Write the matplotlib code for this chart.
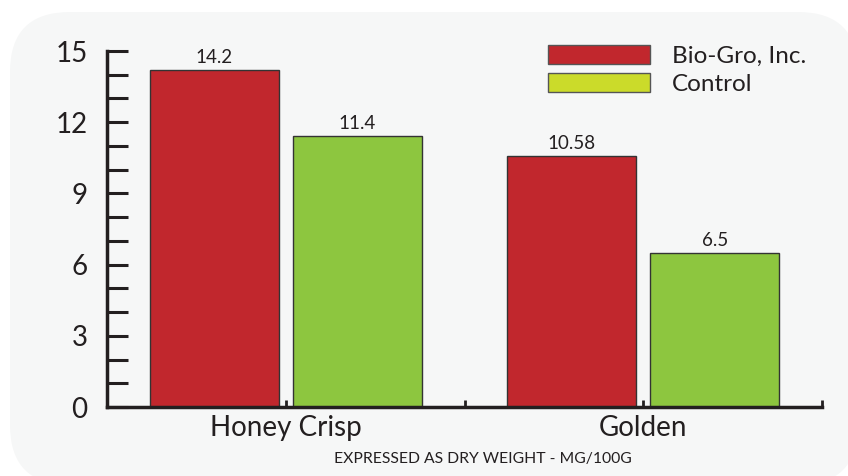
import matplotlib
matplotlib.use("Agg")
import matplotlib.pyplot as plt
from matplotlib.patches import FancyBboxPatch, Patch
from matplotlib.transforms import IdentityTransform
import numpy as np

plt.rcParams['font.family'] = ['Lato', 'DejaVu Sans']

varieties = ['Honey Crisp', 'Golden']
biogro = [14.2, 10.58]
control = [11.4, 6.5]
biogro_labels = ['14.2', '10.58']
control_labels = ['11.4', '6.5']
series_names = ['Bio-Gro, Inc.', 'Control']
note = 'EXPRESSED AS DRY WEIGHT - MG/100G'

RED = '#c1272d'
GREEN = '#8dc63f'
LEGEND_GREEN = '#cbdb2a'
INK = '#231f20'

fig = plt.figure(figsize=(8.48, 4.76), dpi=100, facecolor='white')

# rounded light panel behind everything (pixel coords)
panel = FancyBboxPatch((10, -9), 848, 473, boxstyle='round,pad=0,rounding_size=60',
                       facecolor='#f6f7f7', edgecolor='none',
                       transform=IdentityTransform(), zorder=0)
fig.add_artist(panel)

ax = fig.add_axes([107 / 848, 1 - 407 / 476, 715 / 848, 356 / 476])
ax.set_facecolor('none')

x = np.arange(len(varieties))
w = 0.36
b1 = ax.bar(x - 0.2, biogro, w, color=RED, edgecolor='#333333', linewidth=1, zorder=2)
b2 = ax.bar(x + 0.2, control, w, color=GREEN, edgecolor='#333333', linewidth=1, zorder=2)
ax.bar_label(b1, labels=biogro_labels, padding=3, fontsize=13.5, color=INK)
ax.bar_label(b2, labels=control_labels, padding=3, fontsize=13.5, color=INK)

ax.set_xlim(-0.5, 1.5)
ax.set_ylim(0, 15)
ax.set_yticks(np.arange(0, 16, 3))
ax.set_yticks(np.arange(0, 16, 1), minor=True)
ax.set_xticks(x)
ax.set_xticklabels(varieties)
ax.set_xticks([0.5, 1.5], minor=True)

for s in ['top', 'right']:
    ax.spines[s].set_visible(False)
for s in ['left', 'bottom']:
    ax.spines[s].set_color(INK)
    ax.spines[s].set_linewidth(2.5)
    ax.spines[s].set_capstyle('projecting')

ax.tick_params(axis='y', which='both', direction='in', length=15, width=2.2,
               color=INK, labelsize=20, labelcolor=INK, pad=14)
ax.tick_params(axis='x', which='both', direction='in', length=5, width=2,
               color=INK, labelsize=20, labelcolor=INK, pad=6)

handles = [Patch(facecolor=RED, edgecolor='#555555', linewidth=1),
           Patch(facecolor=LEGEND_GREEN, edgecolor='#555555', linewidth=1)]
leg = ax.legend(handles, series_names, loc='upper left',
                bbox_to_anchor=(548 / 848, 1 - 45 / 476), bbox_transform=fig.transFigure,
                frameon=False, fontsize=17.5, handlelength=4.2, handleheight=0.82,
                handletextpad=0.9, labelspacing=0.25, borderpad=0, borderaxespad=0)
for t in leg.get_texts():
    t.set_color(INK)

fig.text(483 / 848, 1 - 459 / 476, note, ha='center', va='center', fontsize=11.3,
         color=INK)

fig.savefig('out.png', dpi=100, facecolor='white')
